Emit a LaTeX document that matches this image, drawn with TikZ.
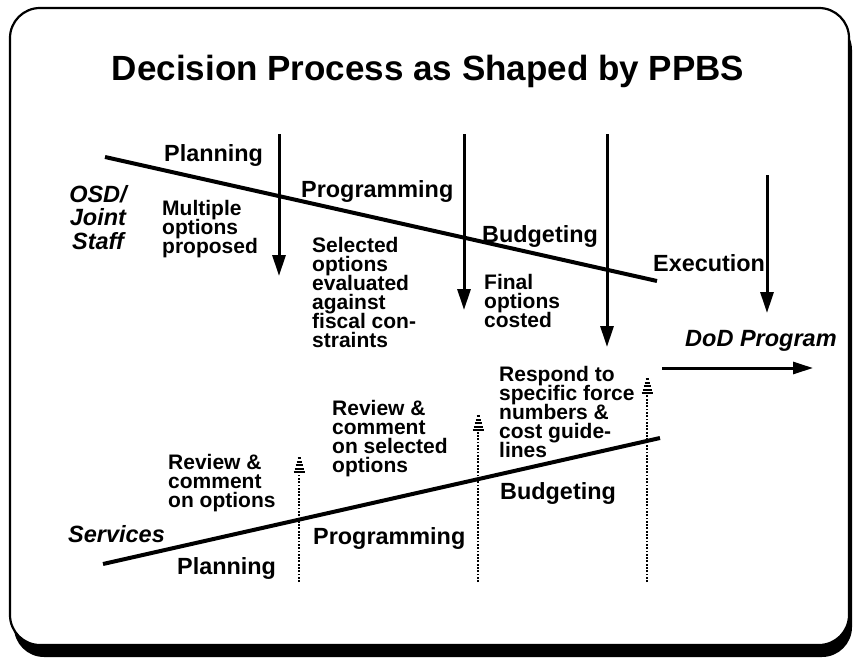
\documentclass[tikz,border=0pt]{standalone}
\usepackage{fontspec}
\setmainfont{Liberation Sans}
\usepackage{tikz}
\usetikzlibrary{arrows.meta,positioning,calc}

\begin{document}
\setlength{\lineskiplimit}{-50pt}
\begin{tikzpicture}[x=1pt, y=-1pt,
    phaselbl/.style={font=\bfseries\fontsize{23.4}{24}\selectfont, inner sep=0pt},
    desc/.style={font=\bfseries\fontsize{21}{19}\selectfont, inner sep=0pt, align=left, anchor=north west},
    actor/.style={font=\bfseries\itshape\fontsize{23.5}{23.5}\selectfont, inner sep=0pt},
    track/.style={line width=4pt},
    push/.style={line width=3pt, -{Triangle[length=21pt,width=13pt]}},
    reply/.style={line width=2.8pt, dash pattern=on 1.8pt off 1.5pt}]
    \useasboundingbox (0,0) rectangle (856,658);

    % Frame with shadow
    \fill[rounded corners=30pt] (14,20) rectangle (852,657);
    \draw[line width=2.2pt, fill=white, rounded corners=30pt] (10,8) rectangle (849,645);
    \node[font=\bfseries\fontsize{35}{40}\selectfont, anchor=base] (title) at (428,81) {Decision Process as Shaped by PPBS};

    % OSD / Joint Staff track
    \coordinate (osdL) at (105,157);
    \coordinate (osdR) at (657,281);
    \draw[track] (osdL) -- (osdR);
    \node[actor, align=center, anchor=north] (osd) at (98,185) {OSD/\\Joint\\Staff};
    \node[phaselbl, anchor=base west] (planU) at (164,161) {Planning};
    \node[phaselbl, anchor=base west] (progU) at (301,197) {Programming};
    \node[phaselbl, anchor=base west] (budgU) at (482,242) {Budgeting};
    \node[phaselbl, anchor=base west] (exec) at (653,271) {Execution};
    \node[desc] (multi) at (162,200) {Multiple\\options\\proposed};
    \node[desc] (select) at (312,237) {Selected\\options\\evaluated\\against\\fiscal con-\\straints};
    \node[desc] (final) at (484,274) {Final\\options\\costed};

    % Guidance going down
    \foreach \n/\x/\t/\b in {1/279/134/276, 2/464/134/310, 3/607/134/347, 4/767/175/313} {
        \coordinate (dn\n) at (\x,\t);
        \coordinate (dt\n) at (\x,\b);
        \draw[push] (dn\n) -- (dt\n);
    }

    % Result
    \coordinate (dodL) at (662,368);
    \coordinate (dodR) at (813,368);
    \draw[line width=3pt, -{Triangle[length=20pt,width=12pt]}] (dodL) -- (dodR);
    \node[actor, anchor=base west] (dod) at (685,346) {DoD Program};

    % Services track
    \coordinate (svcL) at (103,564);
    \coordinate (svcR) at (660,438);
    \draw[track] (svcL) -- (svcR);
    \node[actor, anchor=base west] (svc) at (68,542) {Services};
    \node[phaselbl, anchor=base west] (planL) at (177,574) {Planning};
    \node[phaselbl, anchor=base west] (progL) at (313,544) {Programming};
    \node[phaselbl, anchor=base west] (budgL) at (500,499) {Budgeting};
    \node[desc] (rvw1) at (168,454) {Review \&\\comment\\on options};
    \node[desc] (rvw2) at (332,400) {Review \&\\comment\\on selected\\options};
    \node[desc] (resp) at (499,366) {Respond to\\specific force\\numbers \&\\cost guide-\\lines};

    % Feedback going up (striped heads)
    \foreach \n/\x/\t in {1/299/457, 2/478/415, 3/647/378} {
        \coordinate (ub\n) at (\x,582);
        \coordinate (ut\n) at (\x,\t);
        \draw[reply] (ub\n) -- ($(ut\n)+(0,17)$);
        \foreach \k in {0,...,4}
            \draw[line width=2pt] ($(ut\n)+(-1.5-\k,1+\k*3.5)$) -- ($(ut\n)+(1.5+\k,1+\k*3.5)$);
    }
\end{tikzpicture}
\end{document}
